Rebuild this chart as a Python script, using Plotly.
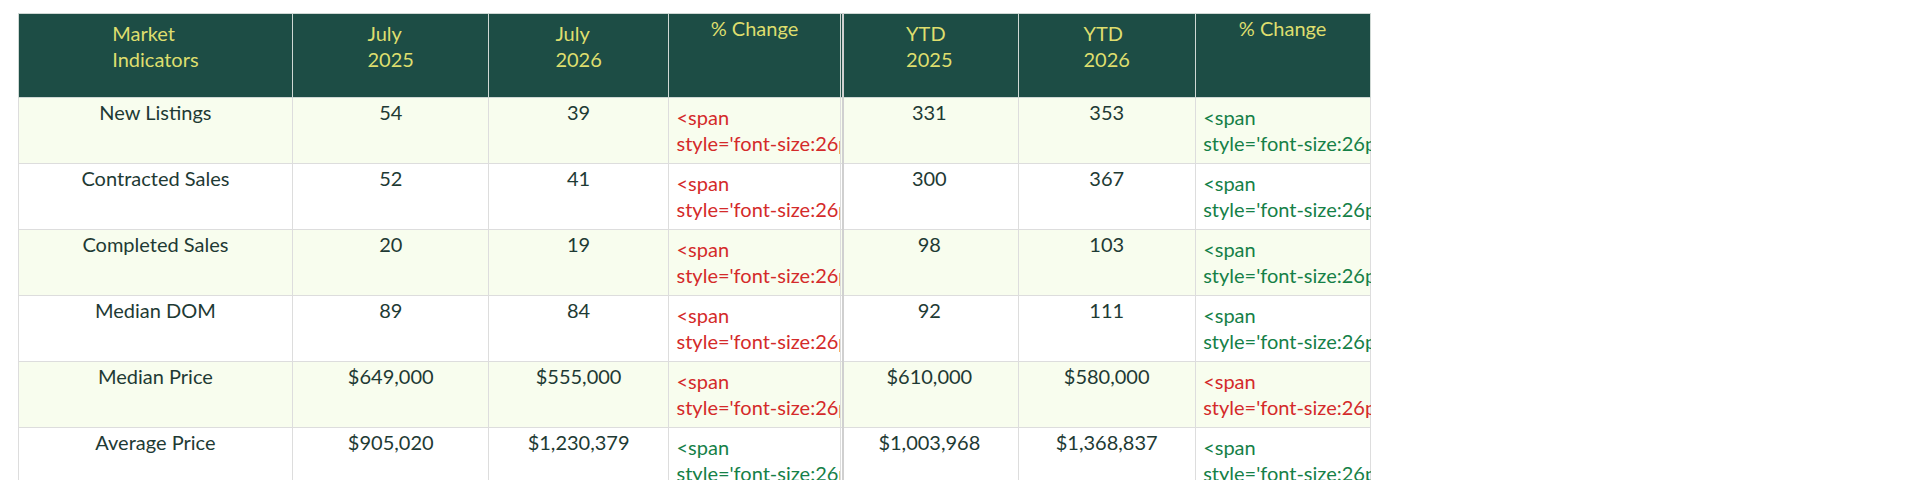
import plotly.graph_objects as go

indicators = ["New Listings", "Contracted Sales", "Completed Sales", "Median DOM",
              "Median Price", "Average Price", "Average List/Sale Ratio"]
july_2025 = ["54", "52", "20", "89", "$649,000", "$905,020", "93.1%"]
july_2026 = ["39", "41", "19", "84", "$555,000", "$1,230,379", "92.6%"]
july_change = [-27.8, -21.2, -5.0, -5.6, -14.5, 36.0, -0.6]
ytd_2025 = ["331", "300", "98", "92", "$610,000", "$1,003,968", "93.2%"]
ytd_2026 = ["353", "367", "103", "111", "$580,000", "$1,368,837", "93.8%"]
ytd_change = [6.6, 22.3, 5.1, 21.3, -4.9, 36.3, 0.6]

headers = ["Market<br>Indicators", "July<br>2025", "July<br>2026", "% Change",
           "YTD<br>2025", "YTD<br>2026", "% Change"]

RED = "#d42a2a"
GREEN = "#158047"
TEXT = "#1e3a34"
NB = "\u00a0"


def fmt_change(vals):
    out = []
    for v in vals:
        tri = "▲" if v > 0 else "▼"
        num = f"{abs(v):.1f}%"
        pad = NB * (5 if len(num) == 5 else 7)
        out.append(f"<span style='font-size:26px'>{tri}</span>{pad}{num}")
    return out


def change_colors(vals):
    return [GREEN if v > 0 else RED for v in vals]


row_fill = ["#f8fdee" if i % 2 == 0 else "white" for i in range(len(indicators))]

cols = [indicators, july_2025, july_2026, fmt_change(july_change),
        ytd_2025, ytd_2026, fmt_change(ytd_change)]
font_colors = [[TEXT] * 7, [TEXT] * 7, [TEXT] * 7, change_colors(july_change),
               [TEXT] * 7, [TEXT] * 7, change_colors(ytd_change)]
aligns = ["center", "center", "center", "left", "center", "center", "left"]

fig = go.Figure(go.Table(
    columnwidth=[275, 196, 180, 172, 178, 177, 175],
    header=dict(values=headers, fill_color="#1d4d45",
                line=dict(color="#cfd8d4", width=1),
                font=dict(family="Lato", size=20, color="#dede6e"),
                height=84, align="center"),
    cells=dict(values=cols, fill_color=[row_fill] * 7,
               line=dict(color="#dddddd", width=1),
               font=dict(family="Lato", size=20, color=font_colors),
               height=55, align=aligns),
    domain=dict(x=[10 / 1920, 1363 / 1920], y=[0, 1 - 5 / 480]),
))

fig.add_shape(type="line", xref="paper", yref="paper",
              x0=835 / 1920, x1=835 / 1920, y0=6 / 480, y1=1 - 5 / 480,
              line=dict(color="#d0d0d0", width=2))

fig.update_layout(width=1920, height=480, margin=dict(l=0, r=0, t=0, b=0),
                  paper_bgcolor="white")
fig.write_html("out.html")
